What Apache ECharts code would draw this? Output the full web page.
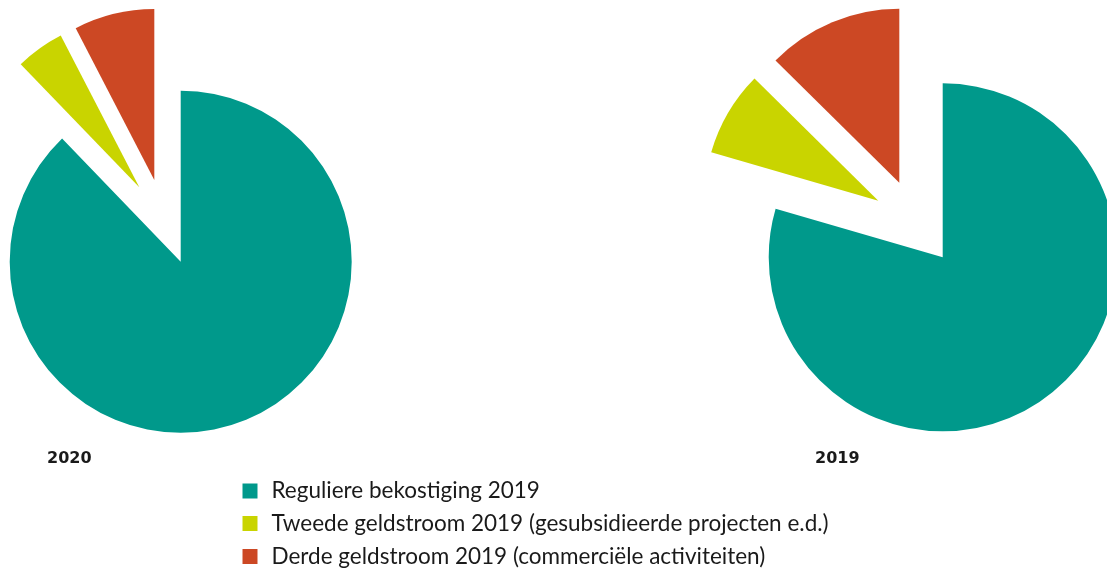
<!DOCTYPE html>
<html>
<head>
<meta charset="utf-8">
<script src="https://cdn.jsdelivr.net/npm/echarts@6/dist/echarts.min.js"></script>
<style>
html,body{margin:0;padding:0;background:#fff;}
#chart{width:1107px;height:568px;}
</style>
</head>
<body>
<div id="chart"></div>
<script>
// ---- data ----
const categories = [
  'Reguliere bekostiging 2019',
  'Tweede geldstroom 2019 (gesubsidieerde projecten e.d.)',
  'Derde geldstroom 2019 (commerciële activiteiten)'
];
const values2020 = [87.8, 4.6, 7.6];
const values2019 = [79.5, 7.9, 12.6];
const pieLabels = ['2020', '2019'];
const colors = ['#00998B', '#C9D400', '#CC4824'];

// ---- layout (exploded slice offsets in px) ----
const pies = [
  { values: values2020, center: [180.7, 261.7], radius: 171,
    offsets: [[0, 0], [-41.4, -74.4], [-26.4, -81.7]] },
  { values: values2019, center: [942.7, 257.3], radius: 174,
    offsets: [[0, 0], [-64.4, -56.6], [-43.4, -74.6]] }
];

const series = [];
pies.forEach(p => {
  categories.forEach((c, k) => {
    series.push({
      type: 'pie',
      radius: p.radius,
      center: [p.center[0] + p.offsets[k][0], p.center[1] + p.offsets[k][1]],
      startAngle: 90,
      clockwise: true,
      silent: true,
      animation: false,
      avoidLabelOverlap: false,
      label: { show: false },
      labelLine: { show: false },
      emphasis: { disabled: true },
      itemStyle: { borderWidth: 0 },
      data: p.values.map((v, i) => ({
        name: categories[i],
        value: v,
        itemStyle: { color: i === k ? colors[i] : 'rgba(0,0,0,0)' }
      }))
    });
  });
});

const legendTops = [479.5, 512, 545];
const legends = categories.map((c, i) => ({
  orient: 'vertical',
  left: 242.5,
  top: legendTops[i],
  padding: 0,
  itemWidth: 15,
  itemHeight: 15,
  icon: 'rect',
  selectedMode: false,
  textStyle: { fontFamily: 'Lato', fontSize: 22.5, color: '#1a1a1a', padding: [0, 0, 0, 9] },
  data: [{ name: c, itemStyle: { color: colors[i] } }]
}));

const titleStyle = { fontFamily: 'DejaVu Sans', fontWeight: 'bold', fontSize: 16, color: '#1a1a1a' };

const chart = echarts.init(document.getElementById('chart'), null, { renderer: 'canvas' });
chart.setOption({
  backgroundColor: '#ffffff',
  animation: false,
  title: [
    { text: pieLabels[0], left: 47, top: 451, padding: 0, textStyle: titleStyle },
    { text: pieLabels[1], left: 815, top: 451, padding: 0, textStyle: titleStyle }
  ],
  legend: legends,
  series: series
});
</script>
</body>
</html>
